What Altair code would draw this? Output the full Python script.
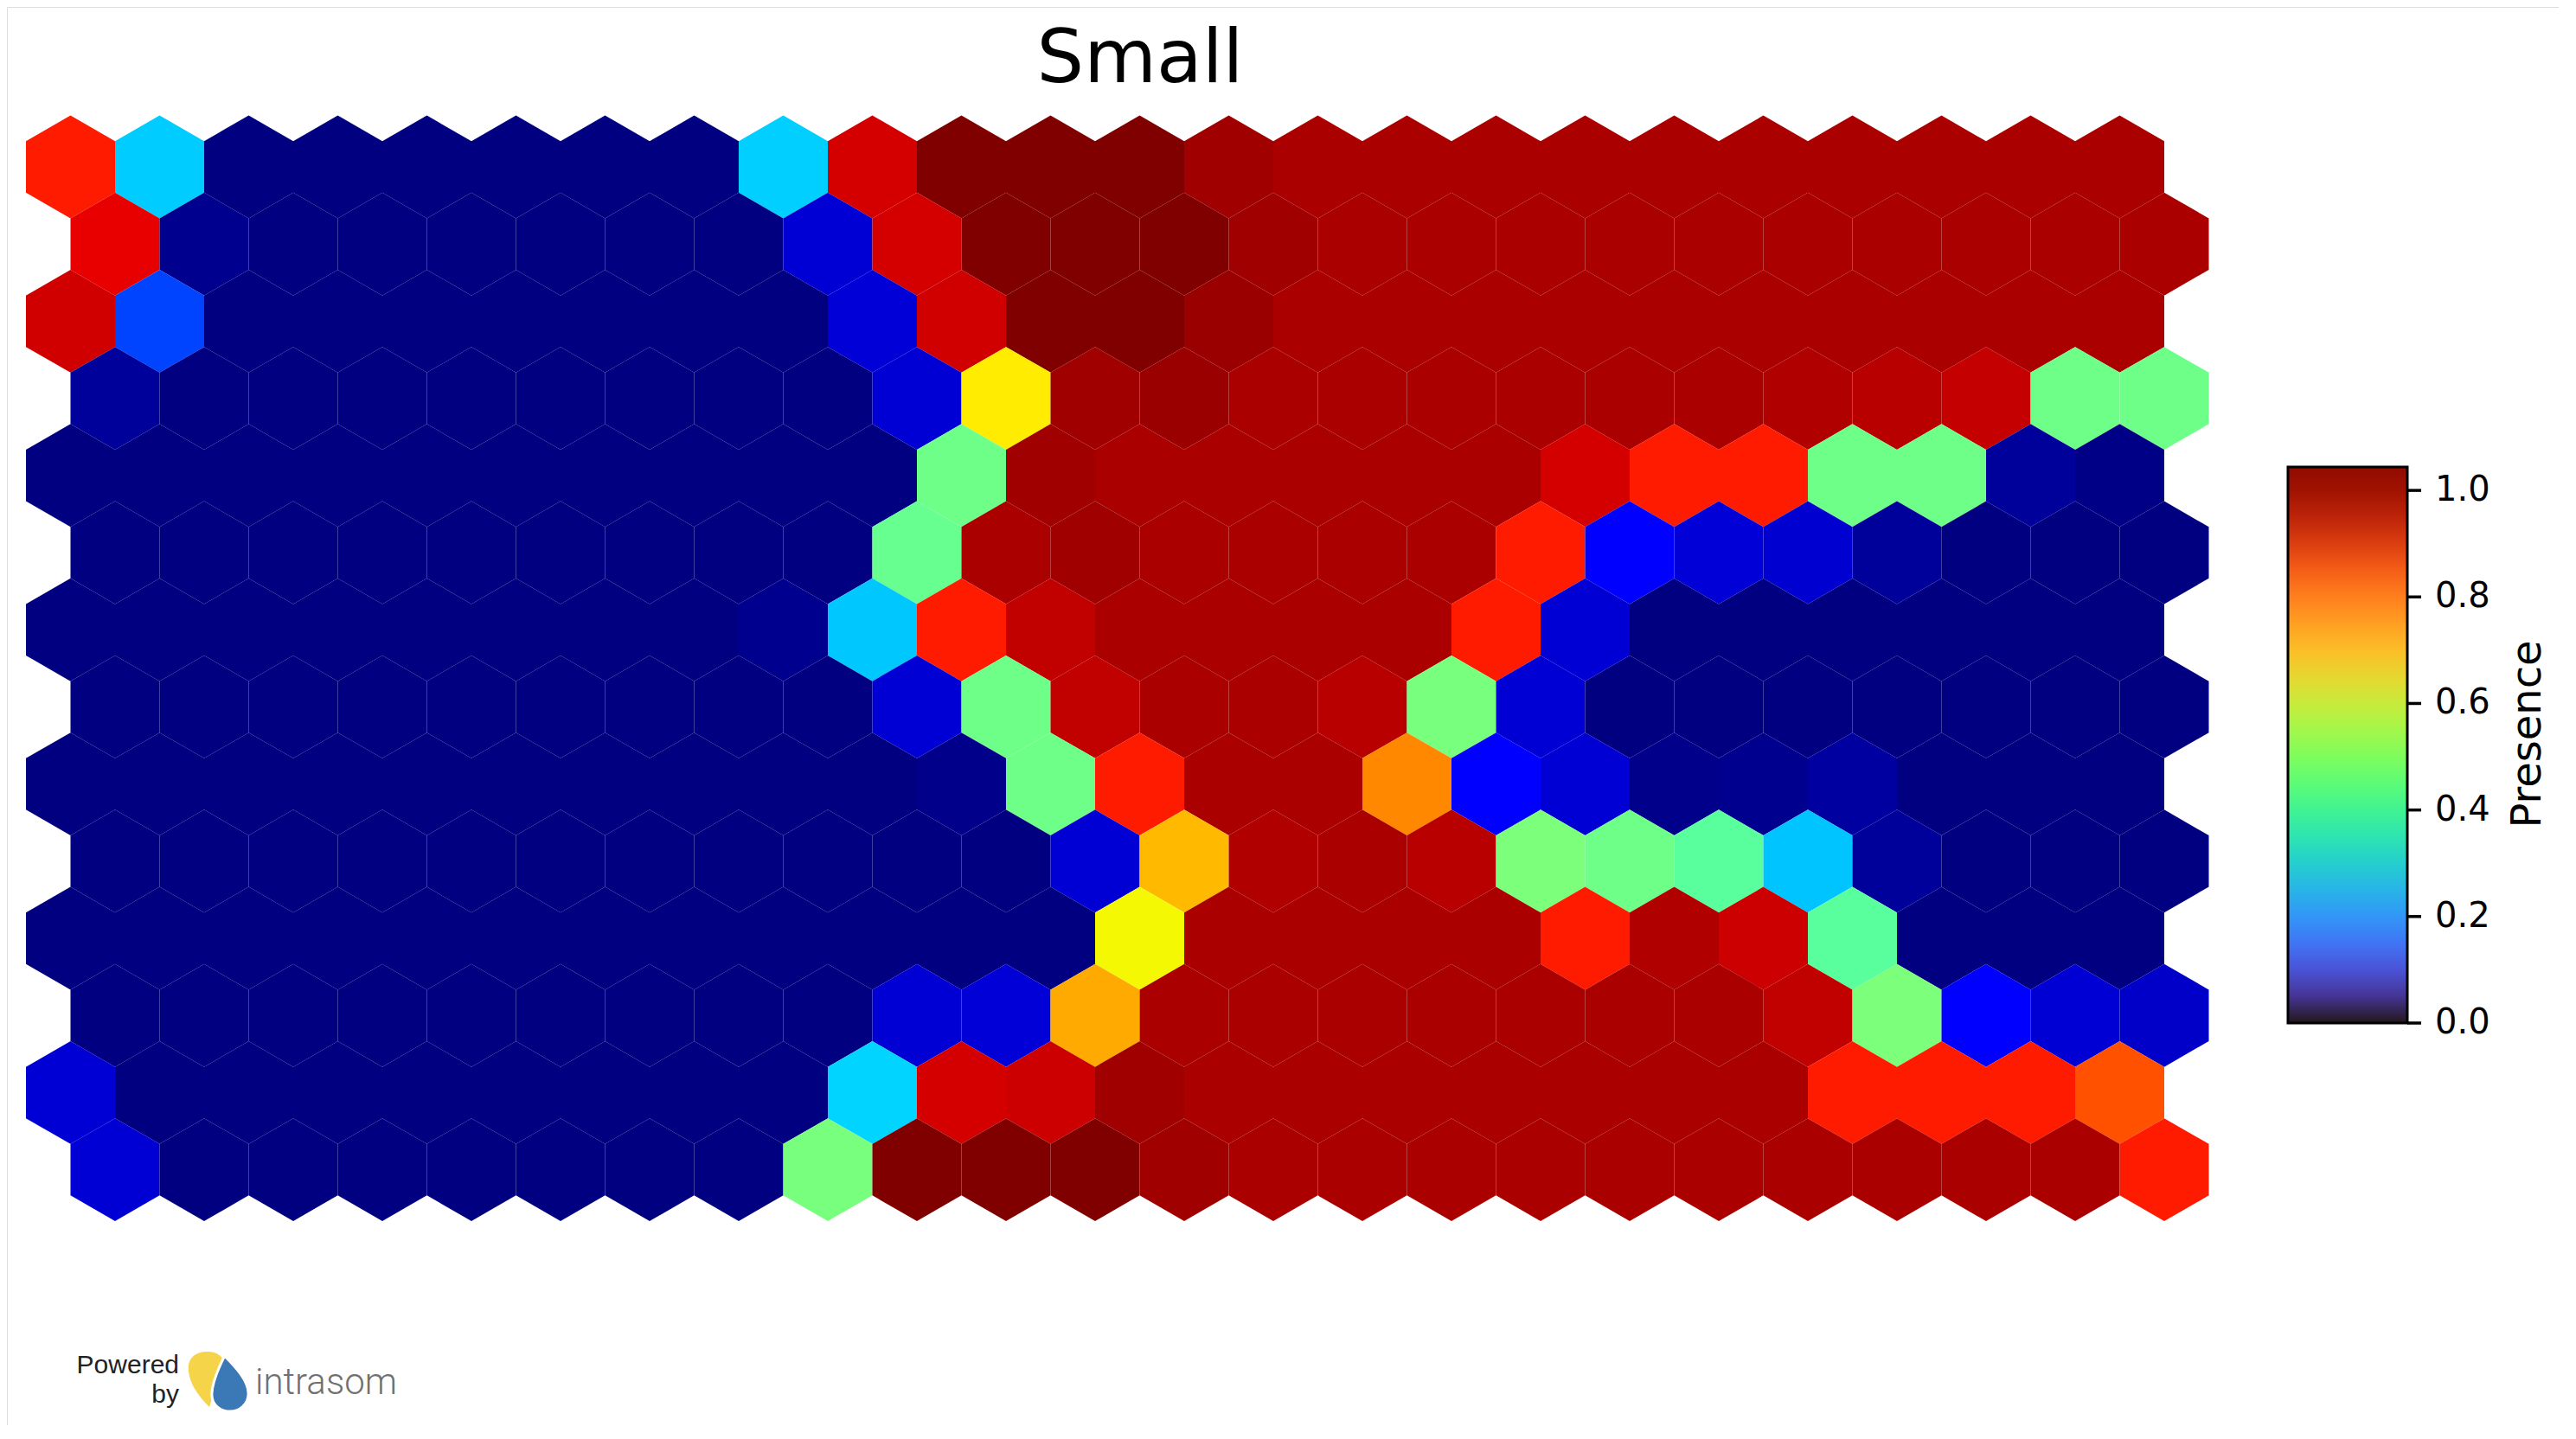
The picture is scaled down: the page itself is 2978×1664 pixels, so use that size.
import math

import altair as alt
import numpy as np
import pandas as pd

# presence per hex cell, one list per map row (top to bottom), 24 columns each
r00 = [0.92, 0.34, 0, 0, 0, 0, 0, 0, 0.343, 0.968, 1.044, 1.044, 1.044, 1.015, 1.005, 1.005, 1.005, 1.005, 1.005, 1.005, 1.005, 1.005, 1.005, 1.005]
r01 = [0.95, 0.014, 0, 0, 0, 0, 0, 0, 0.076, 0.968, 1.044, 1.044, 1.044, 1.015, 1.005, 1.005, 1.005, 1.005, 1.005, 1.005, 1.005, 1.005, 1.005, 1.005]
r02 = [0.971, 0.20, 0, 0, 0, 0, 0, 0, 0, 0.079, 0.971, 1.044, 1.044, 1.02, 1.005, 1.005, 1.005, 1.005, 1.005, 1.005, 1.005, 1.005, 1.005, 1.005]
r03 = [0.024, 0, 0, 0, 0, 0, 0, 0, 0, 0.076, 0.689, 1.015, 1.02, 1.005, 1.005, 1.005, 1.005, 1.005, 1.005, 1.0, 0.993, 0.982, 0.504, 0.504]
r04 = [0, 0, 0, 0, 0, 0, 0, 0, 0, 0, 0.504, 1.015, 1.005, 1.005, 1.005, 1.005, 1.005, 0.968, 0.92, 0.92, 0.504, 0.504, 0.024, 0.005]
r05 = [0, 0, 0, 0, 0, 0, 0, 0, 0, 0.495, 1.005, 1.015, 1.005, 1.005, 1.005, 1.005, 0.92, 0.123, 0.079, 0.072, 0.024, 0, 0, 0]
r06 = [0, 0, 0, 0, 0, 0, 0, 0, 0.014, 0.335, 0.92, 0.985, 1.005, 1.005, 1.005, 1.005, 0.92, 0.076, 0, 0, 0, 0, 0, 0]
r07 = [0, 0, 0, 0, 0, 0, 0, 0, 0, 0.076, 0.504, 0.985, 1.005, 1.005, 0.993, 0.518, 0.076, 0, 0, 0, 0, 0, 0, 0]
r08 = [0, 0, 0, 0, 0, 0, 0, 0, 0, 0, 0.01, 0.504, 0.92, 1.005, 1.005, 0.80, 0.123, 0.076, 0.01, 0.014, 0.03, 0, 0, 0]
r09 = [0, 0, 0, 0, 0, 0, 0, 0, 0, 0, 0, 0.076, 0.744, 1.0, 1.005, 0.993, 0.522, 0.504, 0.479, 0.331, 0.024, 0, 0, 0]
r10 = [0, 0, 0, 0, 0, 0, 0, 0, 0, 0, 0, 0, 0.675, 1.005, 1.005, 1.005, 1.005, 0.92, 1.0, 0.975, 0.479, 0, 0, 0]
r11 = [0, 0, 0, 0, 0, 0, 0, 0, 0, 0.076, 0.079, 0.762, 1.005, 1.005, 1.005, 1.005, 1.005, 1.005, 1.005, 0.985, 0.522, 0.123, 0.076, 0.065]
r12 = [0.076, 0, 0, 0, 0, 0, 0, 0, 0, 0.348, 0.968, 0.975, 1.015, 1.005, 1.005, 1.005, 1.005, 1.005, 1.005, 1.005, 0.92, 0.92, 0.92, 0.861]
r13 = [0.076, 0, 0, 0, 0, 0, 0, 0, 0.518, 1.044, 1.044, 1.044, 1.015, 1.005, 1.005, 1.005, 1.005, 1.005, 1.005, 1.005, 1.005, 1.005, 1.005, 0.92]
rows = [r00, r01, r02, r03, r04, r05, r06, r07, r08, r09, r10, r11, r12, r13]

VMAX = 1.044
tick_values = [0.0, 0.2, 0.4, 0.6, 0.8, 1.0]
tick_labels = ["0.0", "0.2", "0.4", "0.6", "0.8", "1.0"]

# hex grid layout (page pixels)
HEX_W = 103.0
ROW_H = HEX_W * math.sqrt(3) / 2
X0, Y0 = 73.5, 185.0
HEX_PATH = "M0,-1L0.8660254,-0.5L0.8660254,0.5L0,1L-0.8660254,0.5L-0.8660254,-0.5Z"
HEX_SIZE = (2 * HEX_W / math.sqrt(3)) ** 2

# colour bar box (page pixels)
CB_LEFT, CB_TOP, CB_W, CB_H = 2637, 532, 138, 643

# matplotlib "jet" colormap segments, used for the cells
JET = {
    "red": [(0, 0), (0.35, 0), (0.66, 1), (0.89, 1), (1, 0.5)],
    "green": [(0, 0), (0.125, 0), (0.375, 1), (0.64, 1), (0.91, 0), (1, 0)],
    "blue": [(0, 0.5), (0.11, 1), (0.34, 1), (0.65, 0), (1, 0)],
}


def jet(t):
    rgb = []
    for ch in ("red", "green", "blue"):
        seg = JET[ch]
        rgb.append(np.interp(t, [p for p, _ in seg], [v for _, v in seg]))
    return "#%02x%02x%02x" % tuple(int(round(255 * v)) for v in rgb)


stops = sorted({p for seg in JET.values() for p, _ in seg})
jet_scale = alt.Scale(
    domain=[s * VMAX for s in stops], range=[jet(s) for s in stops], interpolate="rgb"
)

ncols, nrows = len(r00), len(rows)
cells = pd.DataFrame(
    [
        {"gx": c + 0.5 * (r % 2), "gy": r, "presence": v}
        for r, vals in enumerate(rows)
        for c, v in enumerate(vals)
    ]
)

hexes = alt.Chart(cells).mark_point(
    shape=HEX_PATH, filled=True, size=HEX_SIZE, opacity=1, strokeWidth=0
).encode(
    x=alt.X("gx:Q", axis=None,
            scale=alt.Scale(domain=[0, ncols - 0.5], range=[X0, X0 + (ncols - 0.5) * HEX_W],
                            nice=False, zero=False)),
    y=alt.Y("gy:Q", axis=None,
            scale=alt.Scale(domain=[0, nrows - 1], range=[Y0, Y0 + (nrows - 1) * ROW_H],
                            nice=False, zero=False)),
    color=alt.Color("presence:Q", scale=jet_scale, legend=None),
)

# invisible layer that only carries the colour bar legend
colorbar = alt.Chart(cells).mark_point(opacity=0).encode(
    x=alt.value(0),
    y=alt.value(0),
    color=alt.Color(
        "presence:Q",
        scale=alt.Scale(scheme="turbo", domain=[0, VMAX]),
        legend=alt.Legend(
            orient="none", legendX=CB_LEFT, legendY=CB_TOP, direction="vertical",
            gradientLength=CB_H, gradientThickness=CB_W, gradientStrokeColor="black",
            gradientStrokeWidth=3, title=None, padding=0, labelExpr="''",
        ),
    ),
)

ticks_df = pd.DataFrame({"tick": tick_values, "label": tick_labels})
cb_y = alt.Y("tick:Q", axis=None,
             scale=alt.Scale(domain=[0, VMAX], range=[CB_TOP + CB_H, CB_TOP], nice=False, zero=False))

tick_marks = alt.Chart(ticks_df).mark_rule(color="black", strokeWidth=3.5).encode(
    x=alt.value(CB_LEFT + CB_W), x2=alt.value(CB_LEFT + CB_W + 16), y=cb_y
)
tick_text = alt.Chart(ticks_df).mark_text(
    align="left", baseline="middle", font="DejaVu Sans", fontSize=40, color="black"
).encode(x=alt.value(CB_LEFT + CB_W + 32), y=cb_y, text="label:N")

one = pd.DataFrame({"k": [0]})
cb_title = alt.Chart(one).mark_text(
    text="Presence", angle=270, align="center", baseline="middle",
    font="DejaVu Sans", fontSize=48, color="black"
).encode(x=alt.value(2915), y=alt.value(841))

title = alt.Chart(one).mark_text(
    text="Small", align="center", baseline="alphabetic",
    font="DejaVu Sans", fontSize=86, color="black"
).encode(x=alt.value(1310), y=alt.value(87))

powered = alt.Chart(one).mark_text(
    text="Powered", align="right", baseline="alphabetic",
    font="Liberation Sans", fontSize=30, color="#222222"
).encode(x=alt.value(199), y=alt.value(1580))
by = alt.Chart(one).mark_text(
    text="by", align="right", baseline="alphabetic",
    font="Liberation Sans", fontSize=30, color="#222222"
).encode(x=alt.value(199), y=alt.value(1614))
brand = alt.Chart(one).mark_text(
    text="intrasom", align="left", baseline="alphabetic",
    font="Roboto", fontWeight=300, fontSize=42, color="#707070"
).encode(x=alt.value(287), y=alt.value(1604))

yellow_drop = alt.Chart(one).mark_point(
    shape="M0.1,1C-0.3,0.6 -0.68,0.1 -0.66,-0.45C-0.64,-0.85 -0.3,-1 0,-1"
          "C0.35,-1 0.62,-0.85 0.66,-0.5C0.5,-0.2 0.3,0.3 0.1,1Z",
    filled=True, size=4096, opacity=1, fill="#f6d44a", strokeWidth=0
).encode(x=alt.value(231), y=alt.value(1587))
blue_drop = alt.Chart(one).mark_point(
    shape="M-0.2,-1C0.2,-0.6 0.66,-0.1 0.66,0.35C0.66,0.75 0.35,1 0,1"
          "C-0.38,1 -0.66,0.75 -0.66,0.4C-0.66,0 -0.45,-0.5 -0.2,-1Z",
    filled=True, size=4096, opacity=1, fill="#3a78b6", stroke="white", strokeWidth=3
).encode(x=alt.value(258), y=alt.value(1592))

chart = alt.layer(
    hexes, colorbar, tick_marks, tick_text, cb_title, title,
    powered, by, brand, yellow_drop, blue_drop
).resolve_scale(
    color="independent", y="independent"
).properties(
    width=2950, height=1640, padding=0, autosize=alt.AutoSizeParams(type="none")
).configure_view(
    stroke="transparent", strokeWidth=0
).configure(background="white")

chart.save("out.html", embed_options={"renderer": "svg", "actions": False})
